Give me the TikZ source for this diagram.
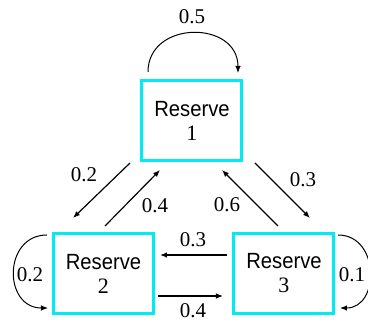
\documentclass[tikz,border=0pt]{standalone}
\usepackage{fontspec}
\setmainfont{Liberation Serif}
\newfontfamily\rsf[FakeStretch=0.92]{Liberation Sans}
\usetikzlibrary{arrows.meta}
\tikzset{
  reserve/.style={draw={rgb,255:red,0;green,235;blue,245}, line width=3pt, minimum width=100pt, minimum height=80pt, inner sep=0pt, align=center, font=\fontsize{22}{24}\selectfont},
  arr/.style={line width=1.2pt, -{Latex[length=7pt,width=5.5pt]}},
  loop/.style={line width=1pt, -{Latex[length=7pt,width=5.5pt]}},
  lbl/.style={font=\fontsize{21}{24}\selectfont, inner sep=0pt}
}
\begin{document}
\begin{tikzpicture}[x=1pt,y=-1pt]
\useasboundingbox (0,0) rectangle (368,321);
\node[reserve] (b1) at (192,120.5) {{\rsf Reserve}\\1};
\node[reserve] (b2) at (103.5,273.5) {{\rsf Reserve}\\2};
\node[reserve] (b3) at (284,273.5) {{\rsf Reserve}\\3};
% self loops
\coordinate (l1s) at (148,72);
\coordinate (l1e) at (238,73);
\draw[loop] (l1s) .. controls (148,20) and (238,20) .. (l1e);
\node[lbl] (t11) at (192,17) {0.5};
\coordinate (l2s) at (47,235);
\coordinate (l2e) at (48,308);
\draw[loop] (l2s) .. controls (3,235) and (3,308) .. (l2e);
\node[lbl] (t22) at (30,275) {0.2};
\coordinate (l3s) at (338,235);
\coordinate (l3e) at (340,308);
\draw[loop] (l3s) .. controls (380,235) and (380,308) .. (l3e);
\node[lbl] (t33) at (352,275) {0.1};
% transitions
\coordinate (a12s) at (130,163);
\coordinate (a12e) at (73,218);
\draw[arr] (a12s) -- (a12e);
\node[lbl] (t12) at (84,175) {0.2};
\coordinate (a21s) at (105,226);
\coordinate (a21e) at (160,170);
\draw[arr] (a21s) -- (a21e);
\node[lbl] (t21) at (155,206) {0.4};
\coordinate (a31s) at (278,226);
\coordinate (a31e) at (222,170);
\draw[arr] (a31s) -- (a31e);
\node[lbl] (t31) at (227,205) {0.6};
\coordinate (a13s) at (255,163);
\coordinate (a13e) at (310,218);
\draw[arr] (a13s) -- (a13e);
\node[lbl] (t13) at (303,180) {0.3};
\coordinate (a32s) at (227,255);
\coordinate (a32e) at (160,255);
\draw[arr] (a32s) -- (a32e);
\node[lbl] (t32) at (193,240) {0.3};
\coordinate (a23s) at (158,296);
\coordinate (a23e) at (223,296);
\draw[arr] (a23s) -- (a23e);
\node[lbl] (t23) at (193,310.5) {0.4};
\end{tikzpicture}
\end{document}
